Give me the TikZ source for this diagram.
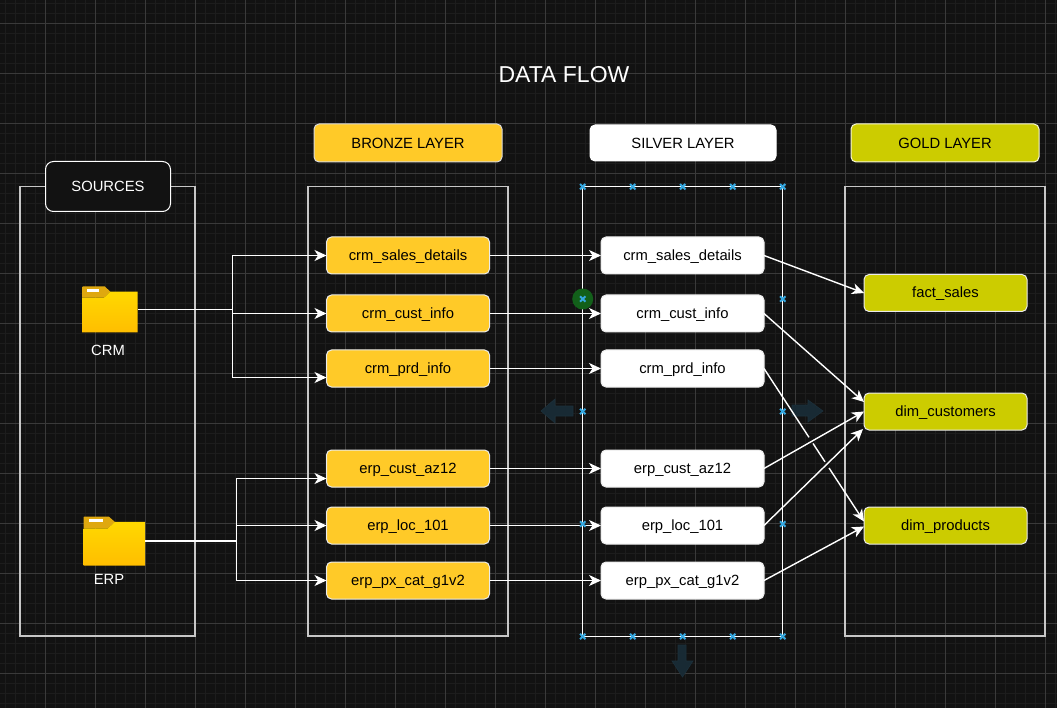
\documentclass[tikz,border=0pt]{standalone}
\usepackage{fontspec}
\setmainfont{Liberation Sans}
\usetikzlibrary{arrows.meta,calc}
\definecolor{bgc}{HTML}{121212}
\definecolor{gridmin}{HTML}{1D1D1D}
\definecolor{gridmaj}{HTML}{3A3A3A}
\definecolor{bronzec}{HTML}{FFCA28}
\definecolor{goldc}{HTML}{CCCC00}
\definecolor{markc}{HTML}{35A8E0}
\definecolor{ghost}{HTML}{182A34}
\definecolor{ghostb}{HTML}{1C303B}
\definecolor{halo}{HTML}{12601A}
\definecolor{foldtab}{HTML}{DFA80F}
\definecolor{foldtop}{HTML}{FFD800}
\definecolor{foldbot}{HTML}{FFBE00}
\tikzset{
  container/.style={draw=white!78!black,line width=1.4pt,fill=none},
  tagbox/.style={rounded corners=5pt,inner sep=0pt,outer sep=0pt,line width=1pt,text height=10pt,text depth=0pt,font=\fontsize{14.8}{17}\selectfont,text=black},
  headbox/.style={tagbox,text height=11pt},
  rowbox/.style={tagbox,minimum width=163pt,minimum height=37pt,draw=white!92!black},
  bronzerow/.style={rowbox,fill=bronzec},
  silverrow/.style={rowbox,fill=white},
  goldrow/.style={rowbox,fill=goldc},
  flow/.style={draw=white,line width=1.4pt,-{Stealth[length=12pt,width=11pt,inset=3.5pt]}},
  plainflow/.style={draw=white,line width=1.4pt},
  marker/.style={draw=markc,line width=2pt},
  ghostarrow/.style={fill=ghost,draw=ghostb,line width=.6pt},
  caption/.style={inner sep=0pt,text=white,font=\fontsize{14.8}{17}\selectfont},
}
\newcommand{\myfolder}[5]{% name, x0, y0, w, h
  \pgfmathsetmacro{\fxc}{#2+#4/2}\pgfmathsetmacro{\fyc}{#3+#5/2}
  \node[inner sep=0pt,outer sep=0pt,minimum width=#4pt,minimum height=#5pt] (#1) at (\fxc,\fyc) {};
  \begin{scope}[shift={(#2,#3)},x=#4pt,y=-#5pt]
    \fill[foldtab] (0,.01) -- (0,.24) -- (.4,.24) -- (.51,.11) -- (.41,0) -- (.02,0) -- cycle;
    \fill[white] (.09,.06) rectangle (.31,.115);
    \shade[top color=foldtop,bottom color=foldbot] (0,.24) -- (.4,.24) -- (.51,.11) -- (1,.11) -- (1,1) -- (0,1) -- cycle;
  \end{scope}
}
\begin{document}
\begin{tikzpicture}[x=1pt,y=-1pt]
\useasboundingbox (0,0) rectangle (1057,708);
\fill[bgc] (0,0) rectangle (1057,708);
% grid
\foreach \g in {5.5,15.5,...,1055.5} {\draw[gridmin,line width=1pt] (\g,0) -- (\g,708);}
\foreach \g in {3.5,13.5,...,703.5} {\draw[gridmin,line width=1pt] (0,\g) -- (1057,\g);}
\foreach \g in {45.5,95.5,...,1045.5} {\draw[gridmaj,line width=1pt] (\g,0) -- (\g,708);}
\foreach \g in {23.5,73.5,...,673.5} {\draw[gridmaj,line width=1pt] (0,\g) -- (1057,\g);}
% title
\node[inner sep=0pt,text=white,font=\fontsize{23}{26}\selectfont] (title) at (564,75) {DATA FLOW};
% containers
\draw[container] (20,186.7) rectangle (195,636);
\draw[container] (308,186.7) rectangle (508,636);
\draw[container,draw=white,line width=1.2pt] (582.7,186.7) rectangle (782.7,636.5);
\draw[container] (845,186.7) rectangle (1045,636);
% ghost arrows
\fill[ghostarrow] (573,406) -- (555,406) -- (555,399) -- (541,411) -- (555,423) -- (555,416) -- (573,416) -- cycle;
\fill[ghostarrow] (792,405) -- (808,405) -- (808,400) -- (823,411) -- (808,422) -- (808,416) -- (792,416) -- cycle;
\fill[ghostarrow] (678,645) -- (686,645) -- (686,661) -- (693,661) -- (682.5,677) -- (672,661) -- (678,661) -- cycle;
% halo
\fill[halo] (582.7,299) circle (10.5);
% headers
\node[headbox,draw=white!85!black,fill=bronzec,minimum width=188pt,minimum height=38pt] (hbronze) at (408,143) {BRONZE LAYER};
\node[headbox,draw=white,fill=white,minimum width=186pt,minimum height=36pt] (hsilver) at (683,143) {SILVER LAYER};
\node[headbox,draw=white!85!goldc,fill=goldc,minimum width=188pt,minimum height=38pt] (hgold) at (945,143) {GOLD LAYER};
\node[headbox,draw=white,fill=bgc,text=white,rounded corners=8pt,minimum width=125pt,minimum height=50pt] (sources) at (108,186.5) {SOURCES};
% folders
\myfolder{crm}{82}{286.5}{55.5}{46}
\myfolder{erp}{83.5}{516.5}{61.5}{49}
\node[caption] (crmlabel) at (108,350) {CRM};
\node[caption] (erplabel) at (109,579) {ERP};
% bronze
\node[bronzerow] (bsales) at (408,255.5) {crm\_sales\_details};
\node[bronzerow] (bcust) at (408,313.5) {crm\_cust\_info};
\node[bronzerow] (bprd) at (408,368.5) {crm\_prd\_info};
\node[bronzerow] (baz) at (408,468.5) {erp\_cust\_az12};
\node[bronzerow] (bloc) at (408,525.5) {erp\_loc\_101};
\node[bronzerow] (bpx) at (408,580.5) {erp\_px\_cat\_g1v2};
% silver
\node[silverrow] (ssales) at (682.5,255.5) {crm\_sales\_details};
\node[silverrow] (scust) at (682.5,313.5) {crm\_cust\_info};
\node[silverrow] (sprd) at (682.5,368.5) {crm\_prd\_info};
\node[silverrow] (saz) at (682.5,468.5) {erp\_cust\_az12};
\node[silverrow] (sloc) at (682.5,525.5) {erp\_loc\_101};
\node[silverrow] (spx) at (682.5,580.5) {erp\_px\_cat\_g1v2};
% gold
\node[goldrow] (gfact) at (945.5,293) {fact\_sales};
\node[goldrow] (gcust) at (945.5,411.5) {dim\_customers};
\node[goldrow] (gprod) at (945.5,525.5) {dim\_products};
% source connectors
\coordinate (crmbus) at (232.5,309.5);
\coordinate (erpbus) at (236.5,541);
\draw[plainflow] (crm.east) -- (crmbus);
\draw[flow] (crmbus) |- (bsales.west);
\draw[flow] (crmbus) |- (bcust.west);
\draw[flow] (crmbus) |- ([yshift=-9pt]bprd.west);
\draw[plainflow] (erp.east) -- (erpbus);
\draw[flow] (erpbus) |- ([yshift=-10pt]baz.west);
\draw[flow] (erpbus) |- (bloc.west);
\draw[flow] (erpbus) |- (bpx.west);
% bronze to silver
\draw[flow] (bsales) -- (ssales);
\draw[flow] (bcust) -- (scust);
\draw[flow] (bprd) -- (sprd);
\draw[flow] (baz) -- (saz);
\draw[flow] (bloc) -- (sloc);
\draw[flow] (bpx) -- (spx);
% silver to gold
\coordinate (prdend) at ([yshift=4pt]gprod.west);
\draw[plainflow] (sprd.east) -- ($(sprd.east)!.45!(prdend)$);
\draw[plainflow] ($(sprd.east)!.49!(prdend)$) -- ($(sprd.east)!.61!(prdend)$);
\draw[flow] ($(sprd.east)!.65!(prdend)$) -- (prdend);
\draw[flow] (ssales.east) -- (gfact.west);
\draw[flow] (scust.east) -- ([yshift=9.5pt]gcust.west);
\draw[flow] (saz.east) -- (gcust.west);
\draw[flow] (sloc.east) -- ([xshift=-1pt,yshift=1pt]gcust.south west);
\draw[flow] (spx.east) -- ([yshift=-1pt]gprod.west);
% markers
\foreach \mx/\my in {582.7/186.7,632.7/186.7,682.7/186.7,732.7/186.7,782.7/186.7,
                     582.7/636.5,632.7/636.5,682.7/636.5,732.7/636.5,782.7/636.5,
                     582.7/299,782.7/299,582.7/411.5,782.7/411.5,582.7/524,782.7/524} {
  \draw[marker] (\mx-2.7,\my-2.7) -- (\mx+2.7,\my+2.7) (\mx-2.7,\my+2.7) -- (\mx+2.7,\my-2.7);
}
\end{tikzpicture}
\end{document}
